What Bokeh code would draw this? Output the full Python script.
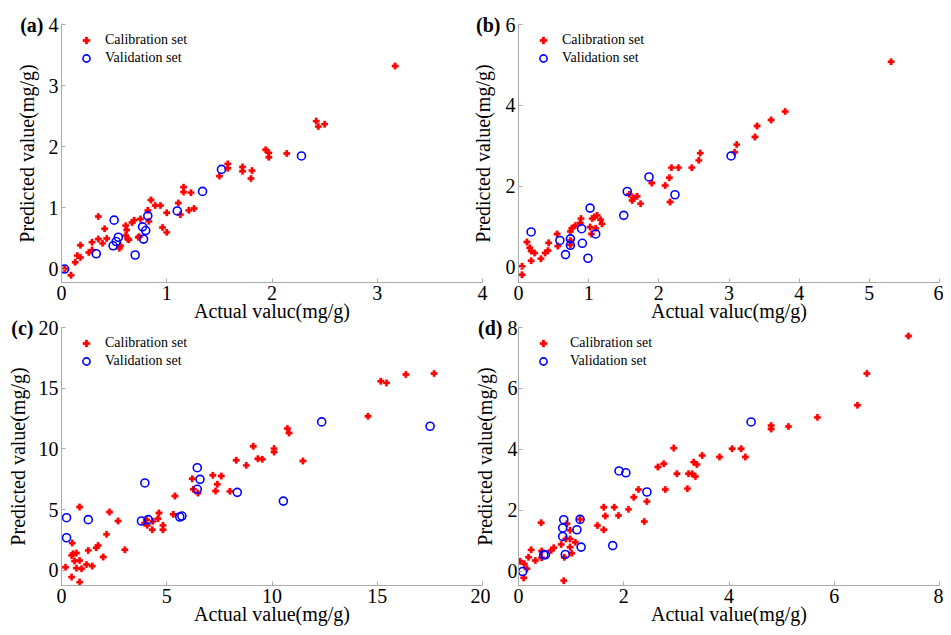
from bokeh.plotting import figure
from bokeh.layouts import row, column
from bokeh.models import Range1d, FixedTicker, LinearAxis, Legend
from bokeh.embed import file_html
from bokeh.resources import INLINE

# ---------------- data ----------------
a_cal_x = [3.17, 2.42, 2.44, 2.50, 1.94, 1.97, 1.97, 2.14, 1.58, 1.58, 1.72, 1.72, 1.81, 1.80, 1.50,
           1.16, 1.16, 1.23, 1.26, 1.21, 1.11, 1.13, 1.00, 1.00, 0.96, 0.94, 0.89, 0.85, 0.82, 0.83,
           0.75, 0.73, 0.69, 0.67, 0.61, 0.62, 0.63, 0.61, 0.56, 0.55, 0.35, 0.41, 0.43, 0.39, 0.35,
           0.29, 0.26, 0.29, 0.18, 0.18, 0.15, 0.13, 0.09, 0.03, 0.64, 0.74]
a_cal_y = [3.32, 2.42, 2.33, 2.37, 1.95, 1.90, 1.83, 1.89, 1.72, 1.65, 1.67, 1.60, 1.61, 1.48, 1.52,
           1.34, 1.26, 1.25, 0.99, 0.96, 1.08, 0.89, 0.92, 0.60, 0.68, 1.04, 1.04, 1.13, 0.96, 0.78,
           0.82, 0.52, 0.80, 0.76, 0.71, 0.64, 0.49, 0.55, 0.38, 0.34, 0.86, 0.66, 0.50, 0.42, 0.49,
           0.44, 0.27, 0.31, 0.39, 0.19, 0.22, 0.11, -0.10, 0.00, 0.48, 0.53]
a_val_x = [0.03, 0.33, 0.50, 0.49, 0.52, 0.54, 0.70, 0.77, 0.78, 0.80, 0.82, 1.10, 1.34, 1.52, 2.28]
a_val_y = [0.00, 0.25, 0.80, 0.38, 0.45, 0.52, 0.23, 0.69, 0.49, 0.63, 0.87, 0.95, 1.27, 1.63, 1.85]

b_cal_x = [5.31, 3.80, 3.60, 3.40, 3.37, 3.11, 3.08, 2.59, 2.57, 2.47, 2.28, 2.18, 2.15, 2.16, 2.09,
           1.90, 1.74, 1.69, 1.64, 1.62, 1.58, 1.19, 1.17, 1.12, 1.08, 1.05, 1.10, 1.02, 1.04, 0.89,
           0.88, 0.81, 0.76, 0.74, 0.74, 0.74, 0.55, 0.56, 0.43, 0.42, 0.38, 0.32, 0.23, 0.18, 0.16,
           0.12, 0.18, 0.05, 0.05]
b_cal_y = [5.08, 3.85, 3.64, 3.49, 3.22, 3.03, 2.84, 2.82, 2.64, 2.46, 2.46, 2.46, 2.21, 1.61, 2.02,
           2.08, 1.57, 1.75, 1.71, 1.65, 1.80, 1.07, 1.17, 1.28, 1.24, 1.20, 0.96, 0.99, 0.82, 1.20,
           1.09, 1.03, 0.96, 0.88, 0.55, 0.66, 0.82, 0.52, 0.60, 0.41, 0.35, 0.21, 0.35, 0.40, 0.48,
           0.62, 0.16, 0.02, -0.19]
b_val_x = [0.18, 0.59, 0.74, 0.74, 0.67, 0.90, 0.91, 0.99, 1.02, 1.10, 1.50, 1.55, 1.86, 2.23, 3.03]
b_val_y = [0.87, 0.66, 0.70, 0.54, 0.31, 0.95, 0.59, 0.22, 1.46, 0.82, 1.28, 1.87, 2.23, 1.79, 2.75]

c_cal_x = [17.70, 16.36, 15.17, 15.44, 14.56, 10.73, 10.81, 11.47, 10.10, 10.10, 9.11, 9.33, 9.54,
           8.78, 8.30, 8.00, 7.19, 7.59, 7.40, 7.32, 6.21, 6.26, 6.48, 5.39, 5.31, 4.63, 4.58, 4.82,
           4.82, 4.34, 4.31, 4.07, 3.95, 4.04, 2.69, 2.28, 3.01, 2.14, 1.74, 1.65, 1.98, 1.27, 1.19,
           1.46, 0.86, 0.51, 0.55, 0.71, 0.48, 0.62, 0.86, 0.71, 0.95, 0.19, 0.48, 0.86]
c_cal_y = [16.21, 16.13, 15.58, 15.44, 12.69, 11.68, 11.32, 9.01, 10.03, 9.75, 10.22, 9.20, 9.15,
           8.65, 9.07, 6.51, 7.83, 7.77, 7.09, 6.54, 7.55, 6.68, 6.37, 6.13, 4.62, 4.73, 4.26, 3.71,
           3.35, 4.04, 3.35, 3.71, 3.90, 4.18, 4.07, 4.81, 1.70, 2.97, 2.06, 1.87, 1.10, 1.65, 0.49,
           0.36, 5.22, 2.25, 1.37, 1.43, 1.24, 0.77, 0.82, 0.19, 0.14, 0.27, -0.55, -0.96]
c_val_x = [17.51, 12.36, 10.54, 8.35, 6.45, 6.58, 6.45, 5.62, 5.72, 3.96, 3.80, 4.12, 1.27, 0.24, 0.24]
c_val_y = [11.87, 12.23, 5.71, 6.43, 8.46, 7.50, 6.68, 4.40, 4.48, 7.20, 4.07, 4.18, 4.18, 4.34, 2.69]

d_cal_x = [7.41, 6.62, 6.44, 5.68, 5.13, 4.80, 4.80, 4.31, 4.23, 4.06, 3.82, 3.49, 3.39, 3.33, 3.36,
           3.30, 3.23, 3.21, 3.01, 2.95, 2.79, 2.76, 2.65, 2.44, 2.39, 2.28, 2.19, 2.09, 1.90, 1.82,
           1.65, 1.62, 1.62, 1.50, 1.17, 1.08, 0.98, 0.98, 0.98, 1.01, 0.90, 0.92, 0.87, 0.81, 0.86,
           0.67, 0.62, 0.44, 0.43, 0.44, 0.32, 0.24, 0.19, 0.16, 0.11, 0.03, 0.10]
d_cal_y = [7.72, 6.49, 5.45, 5.05, 4.75, 4.78, 4.67, 3.75, 4.02, 4.02, 3.75, 3.80, 3.50, 3.58, 3.11,
           3.20, 3.20, 2.71, 3.20, 4.04, 2.68, 3.53, 3.42, 2.29, 1.63, 2.68, 2.43, 2.03, 1.83, 2.10,
           1.81, 2.10, 1.36, 1.50, 1.70, 0.95, 1.06, 1.34, 0.79, 0.59, 1.06, 1.56, 0.46, 0.88, -0.31,
           0.77, 0.68, 0.66, 1.59, 0.44, 0.35, 0.70, 0.46, 0.08, 0.24, 0.33, -0.22]
d_val_x = [4.42, 1.91, 2.04, 2.44, 1.79, 1.19, 1.17, 1.11, 0.86, 0.84, 0.84, 0.89, 0.51, 0.48, 0.08]
d_val_y = [4.90, 3.29, 3.23, 2.60, 0.84, 0.79, 1.70, 1.36, 1.69, 1.42, 1.14, 0.55, 0.54, 0.54, -0.01]

a_xticks = [0, 1, 2, 3, 4]
a_yticks = [0, 1, 2, 3, 4]
b_xticks = [0, 1, 2, 3, 4, 5, 6]
b_yticks = [0, 2, 4, 6]
c_xticks = [0, 5, 10, 15, 20]
c_yticks = [0, 5, 10, 15, 20]
d_xticks = [0, 2, 4, 6, 8]
d_yticks = [0, 2, 4, 6, 8]

panel_tags = ["(a)", "(b)", "(c)", "(d)"]
x_titles = ["Actual valuc(mg/g)", "Actual valuc(mg/g)", "Actual value(mg/g)", "Actual value(mg/g)"]
y_title = "Predicted value(mg/g)"
cal_name = "Calibration set"
val_name = "Validation set"

FONT = "Liberation Serif"
AXIS_GRAY = "#ababab"


def style_axis(ax):
    ax.minor_tick_line_color = None
    ax.major_tick_out = 0
    ax.major_label_text_font = FONT
    ax.major_label_text_font_size = "20px"
    ax.major_label_text_color = "#000000"
    ax.major_label_standoff = 3
    ax.axis_label_text_font = FONT
    ax.axis_label_text_font_size = "20px"
    ax.axis_label_text_font_style = "normal"
    ax.axis_label_text_color = "#000000"


def make_panel(tag, xt, cx, cy, vx, vy, xticks, yticks, xr, yr,
               width, height, bl, br, bt, bb, lab_standoff, ylab_standoff):
    p = figure(width=width, height=height, output_backend="svg", toolbar_location=None,
               x_range=Range1d(*xr), y_range=Range1d(*yr),
               min_border_left=bl, min_border_right=br, min_border_top=bt, min_border_bottom=bb)
    p.border_fill_alpha = 0
    p.background_fill_alpha = 0
    p.outline_line_color = None
    p.xgrid.visible = False
    p.ygrid.visible = False

    r1 = p.scatter(cx, cy, marker="plus", size=6.5, fill_color="#ff0000", line_color="#ff0000",
                   line_width=0.3)
    r2 = p.scatter(vx, vy, marker="circle", size=8, fill_color=None, line_color="#0000ff",
                   line_width=1.6)

    for ax, ticks in ((p.xaxis[0], xticks), (p.yaxis[0], yticks)):
        style_axis(ax)
        ax.ticker = FixedTicker(ticks=ticks)
        ax.major_tick_in = 4
        ax.axis_line_color = AXIS_GRAY
        ax.major_tick_line_color = AXIS_GRAY
    p.xaxis.axis_label = xt
    p.xaxis.axis_label_standoff = -3
    p.yaxis.axis_label_standoff = 0
    p.yaxis.major_label_standoff = ylab_standoff

    # outer left axis: carries the panel tag at the top tick and the y title
    top = yr[1]
    tag_axis = LinearAxis(ticker=FixedTicker(ticks=[top]), major_label_overrides={top: tag},
                          axis_label=y_title)
    style_axis(tag_axis)
    tag_axis.axis_line_color = None
    tag_axis.major_tick_line_color = None
    tag_axis.major_tick_in = 0
    tag_axis.major_label_standoff = 2
    tag_axis.major_label_text_font_style = "bold"
    tag_axis.axis_label_standoff = -21
    p.add_layout(tag_axis, "left")

    legend = Legend(items=[(cal_name, [r1]), (val_name, [r2])],
                    location=(15, height - bt - bb - 7 - 36),
                    margin=0, padding=0, spacing=0,
                    glyph_width=20, glyph_height=18, label_height=18,
                    label_standoff=lab_standoff,
                    label_text_font=FONT, label_text_font_size="14px",
                    label_text_color="#000000",
                    border_line_color=None, background_fill_alpha=0)
    p.add_layout(legend, "center")
    return p


pa = make_panel(panel_tags[0], x_titles[0], a_cal_x, a_cal_y, a_val_x, a_val_y, a_xticks, a_yticks,
                (0, 4), (-0.22, 4), 490, 326, 61, 8, 24, 44, 9, 3)
pb = make_panel(panel_tags[1], x_titles[1], b_cal_x, b_cal_y, b_val_x, b_val_y, b_xticks, b_yticks,
                (0, 6), (-0.38, 6), 474, 326, 49, 4, 24, 44, 9, 3)
pc = make_panel(panel_tags[2], x_titles[2], c_cal_x, c_cal_y, c_val_x, c_val_y, c_xticks, c_yticks,
                (0, 20), (-1.24, 20), 490, 317, 61, 8, 15, 44, 9, 3)
pd = make_panel(panel_tags[3], x_titles[3], d_cal_x, d_cal_y, d_val_x, d_val_y, d_xticks, d_yticks,
                (0, 8), (-0.47, 8), 474, 317, 49, 4, 15, 44, 17, 1)

pb.margin = (0, 0, 0, -21)
pd.margin = (0, 0, 0, -21)
r_top = row(pa, pb)
r_bot = row(pc, pd)
r_bot.margin = (-14, 0, 0, 0)
layout = column(r_top, r_bot)

open("out.html", "w").write(file_html(layout, INLINE))
